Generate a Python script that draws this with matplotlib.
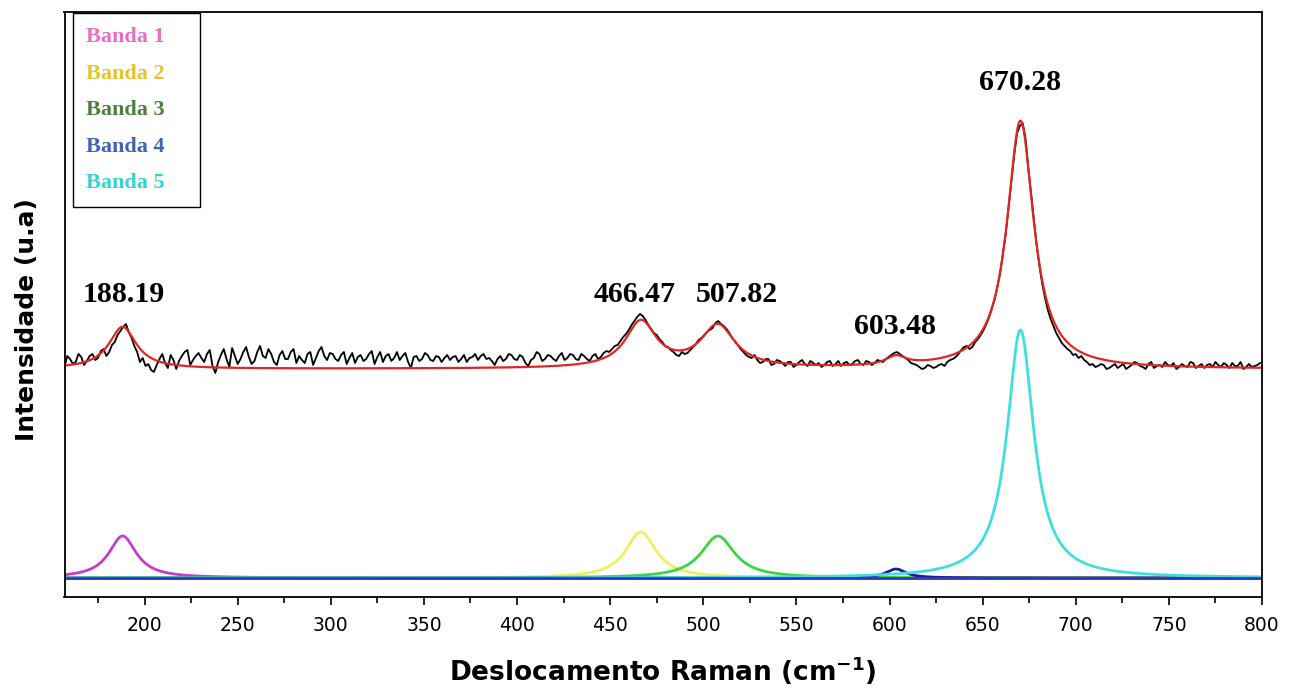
import numpy as np
import matplotlib
matplotlib.use("Agg")
import matplotlib.pyplot as plt

# Espectro experimental, lido a cada 3 cm-1 a partir de 157 cm-1 ...
inicio_a = 157
espectro_a = [
    211, 219, 216, 221, 217, 224, 220, 229, 226, 236, 247, 254, 240, 226, 220,  # 157-199
    214, 206, 219, 215, 223, 209, 222, 228, 218, 225,                           # 202-229
    216, 228, 205, 223, 219, 230, 214, 226, 221, 217, 232, 220, 224, 213, 227,  # 232-274
    219, 229, 222, 215, 226, 220, 231, 218,                                     # 277-298
    224, 217, 226, 220, 215, 223, 219, 227, 221, 216, 224, 220, 218, 225, 210,  # 301-343
    222, 219, 223, 217, 221, 220, 218, 222, 219, 216, 221, 218, 224, 220, 213,  # 346-388
    222, 219, 223, 218, 221, 212, 220, 224, 219, 222, 217, 225, 220, 223,       # 391-430
    218, 222, 217, 224, 221, 227, 229, 233, 241, 248, 257, 264, 258, 249, 243,  # 433-475
    236, 231, 226, 222, 224, 228, 234, 240,                                     # 478-499
    246, 250, 257, 252, 245, 237, 229, 223, 220, 218, 216, 219, 214, 217, 212,  # 502-544
    216, 213, 218, 212, 215,                                                    # 547-559
    215, 213, 217, 214, 212, 216, 214, 218, 213, 216, 215, 217, 219, 223, 226,  # 562-604
    222, 218, 214, 211, 210, 212, 211, 214, 216, 219, 224, 231,                 # 607-640
    229, 236, 243, 254, 270, 292, 326, 372, 424, 452, 440, 384, 333, 294, 268,  # 643-685
    252, 240, 232, 227, 224,                                                    # 688-700
    222, 216, 214, 212, 213, 210, 214, 212, 209, 213, 215, 211, 214, 210, 213,  # 703-745
    216, 212, 209, 214, 211, 215, 212, 210, 214, 216, 211, 213, 215, 212, 209,  # 748-790
    214, 212, 215,                                                              # 793-799
]
# ... e nos pontos intermediarios (158.5, 161.5, ...)
inicio_b = 158.5
espectro_b = [
    222, 214, 224, 213, 222, 218, 227, 222, 233, 243, 251, 246, 232, 216, 212,
    208, 213, 224, 210, 218, 217, 226, 213, 222, 220,
    224, 212, 216, 229, 211, 222, 219, 231, 214, 226, 222, 229, 216, 223, 219,
    226, 215, 218, 224, 213, 227, 222, 225,
    219, 223, 214, 225, 221, 217, 224, 214, 226, 222, 217, 226, 222, 216, 221,
    217, 225, 218, 222, 216, 223, 221, 216, 223, 220, 224, 222, 219, 217, 219,
    217, 224, 219, 223, 215, 218, 226, 217, 223, 219, 222, 218, 224, 219,
    224, 219, 222, 219, 225, 226, 232, 237, 244, 253, 261, 262, 253, 245, 239,
    232, 228, 223, 226, 225, 231, 238, 243,
    248, 255, 254, 249, 240, 233, 226, 221, 223, 215, 219, 213, 218, 215, 216,
    211, 216, 214, 217, 213,
    211, 216, 212, 217, 215, 213, 217, 214, 217, 213, 218, 216, 221, 225, 224,
    220, 215, 213, 209, 213, 210, 213, 212, 218, 221, 228, 232,
    231, 239, 248, 261, 279, 306, 346, 399, 445, 455, 410, 357, 312, 280, 259,
    245, 235, 229, 223, 220,
    218, 213, 211, 214, 209, 212, 210, 214, 211, 216, 212, 209, 216, 212, 211,
    213, 215, 211, 212, 216, 210, 214, 213, 211, 213, 215, 210, 212, 216, 211,
    211, 213,
]
passo = 3
xa = inicio_a + passo * np.arange(len(espectro_a))
xb = inicio_b + passo * np.arange(len(espectro_b))
deslocamento = np.concatenate([xa, xb])
intensidade = np.concatenate([espectro_a, espectro_b])
ordem = np.argsort(deslocamento)
deslocamento = deslocamento[ordem]
intensidade = intensidade[ordem]

# Bandas ajustadas (Lorentzianas): centro, altura, meia largura
centros = [188.19, 466.47, 507.82, 603.48, 670.28]
alturas = [42, 46, 42, 9, 248]
larguras = [9, 10, 11, 6.5, 8.7]
fundo = 209  # linha de base do ajuste

nomes = ["Banda 1", "Banda 2", "Banda 3", "Banda 4", "Banda 5"]
rotulos = ["188.19", "466.47", "507.82", "603.48", "670.28"]

cores = ["#c53ccb", "#f2ee5c", "#41d241", "#1c1c8e", "#40dede"]
cores_legenda = ["#e46fc3", "#e6c42e", "#4d7f3c", "#4063b4", "#37d3d3"]

x = np.linspace(157, 800, 1500)
bandas = [h / (1 + ((x - c) / g) ** 2) for c, h, g in zip(centros, alturas, larguras)]
ajuste = fundo + np.sum(bandas, axis=0)

fig = plt.figure(figsize=(12.95, 6.93), dpi=100)
ax = fig.add_axes([64.5 / 1295, 1 - 597 / 693, 1197.5 / 1295, 585 / 693])

# bandas
linhas = []
for b, cor, nome in zip(bandas, cores, nomes):
    l, = ax.plot(x, b, color=cor, lw=2.0, label=nome)
    linhas.append(l)
ax.axhline(0, color="#3535c8", lw=2.0)

# espectro e ajuste
ax.plot(deslocamento, intensidade, color="black", lw=1.3)
ax.plot(x, ajuste, color="#e02525", lw=1.6)

# rotulos dos picos
rot_x = [189, 463, 518, 603, 670]
rot_y = [283, 283, 283, 251, 495]
for tx, ty, r in zip(rot_x, rot_y, rotulos):
    ax.text(tx, ty, r, ha="center", va="center", fontsize=21.5,
            fontweight="bold", family="Liberation Serif")

ax.set_xlim(157, 800)
ax.set_ylim(-19, 566)
ax.set_yticks([])
ax.set_xticks(np.arange(200, 801, 50))
ax.set_xticks(np.arange(175, 800, 50), minor=True)
ax.tick_params(axis="x", which="major", direction="out", length=6, width=1.2,
               labelsize=13.5, pad=8)
ax.tick_params(axis="x", which="minor", direction="out", length=4, width=1.2)
for s in ax.spines.values():
    s.set_linewidth(1.3)

ax.set_xlabel("Deslocamento Raman (cm$^{\\mathbf{-1}}$)", fontsize=19,
              fontweight="bold", labelpad=14)
ax.set_ylabel("Intensidade (u.a)", fontsize=18, fontweight="bold")
ax.yaxis.set_label_coords(-0.0215, 0.475)

leg = ax.legend(handles=linhas, loc="upper left", bbox_to_anchor=(0.007, 0.998),
                handlelength=0, handletextpad=1.0, markerfirst=False,
                labelcolor=cores_legenda,
                prop={"family": "Liberation Serif", "weight": "bold", "size": 16},
                frameon=True, fancybox=False, edgecolor="black", framealpha=1,
                borderpad=0.6, labelspacing=0.72, borderaxespad=0)
leg.get_frame().set_linewidth(1.0)

fig.savefig("out.png", dpi=100)
